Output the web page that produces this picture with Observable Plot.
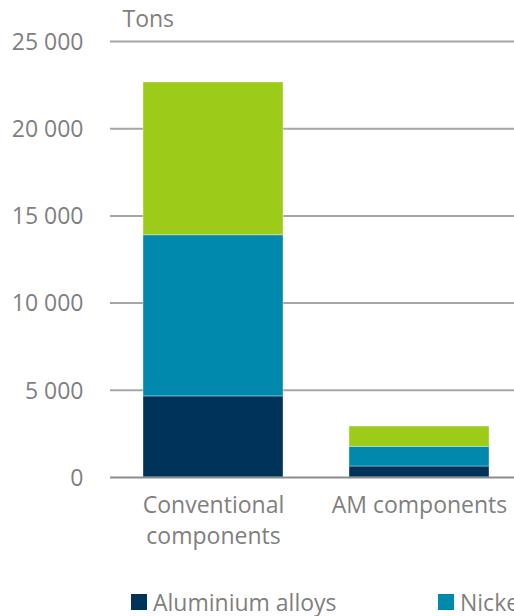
<!DOCTYPE html>
<html>
<head>
<meta charset="utf-8">
<script src="https://cdn.jsdelivr.net/npm/d3@7"></script>
<script src="https://cdn.jsdelivr.net/npm/@observablehq/plot@0.6"></script>
<style>
  html, body { margin: 0; padding: 0; background: #fff; overflow: hidden; }
  #wrap { width: 514px; overflow: hidden; font-family: "Open Sans", sans-serif; }
  #chart svg { max-width: none !important; display: block; }
  #legend { position: relative; height: 40px; margin-top: 17px; white-space: nowrap; font-size: 23px; color: #7f7f7f; }
  .item { position: absolute; top: 0; display: flex; align-items: flex-start; line-height: 1.362; }
  .sw { width: 16px; height: 16px; margin-top: 7px; margin-right: 6px; flex: none; }
</style>
</head>
<body>
<div id="wrap"><div id="chart"></div><div id="legend"></div></div>
<script>
const categories = ["Conventional components", "AM components"];
const xTickLabels = ["Conventional\ncomponents", "AM components"];
const materials = ["Aluminium alloys", "Nickel alloys", "Titanium alloys"];
const aluminium = [4650, 630];
const nickel = [9240, 1130];
const titanium = [8760, 1160];
const yTicks = [0, 5000, 10000, 15000, 20000, 25000];
const colors = ["#003359", "#0089ad", "#9dcb19"];
const unitLabel = ["Tons"];

const seriesValues = [aluminium, nickel, titanium];
const rows = [];
categories.forEach((c, i) => {
  materials.forEach((m, j) => rows.push({category: c, material: m, value: seriesValues[j][i]}));
});

const fmt = d => d3.format(",")(d).replace(/,/g, " ");

const chart = Plot.plot({
  width: 522,
  height: 570,
  marginLeft: 110,
  marginRight: 0,
  marginTop: 41,
  marginBottom: 93,
  style: {fontFamily: "'Open Sans', sans-serif", fontSize: "23px", color: "#7f7f7f", background: "#fff"},
  x: {domain: categories, paddingInner: 0.32, paddingOuter: 0.16, label: null, axis: null},
  y: {domain: [0, 25000], label: null, axis: null},
  color: {domain: materials, range: colors},
  marks: [
    Plot.ruleY(yTicks.filter(d => d > 0), {stroke: "#a6a6a6", strokeWidth: 2}),
    Plot.barY(rows, {x: "category", y: "value", fill: "material", stroke: "#ffffff", strokeOpacity: 0.35, strokeWidth: 1}),
    Plot.ruleY([0], {stroke: "#8c8c8c", strokeWidth: 2}),
    Plot.axisY({ticks: yTicks, tickSize: 0, tickPadding: 27, dy: 1, tickFormat: fmt, fill: "#7f7f7f", label: null}),
    Plot.axisX({tickSize: 0, tickPadding: 13, tickFormat: d => xTickLabels[categories.indexOf(d)], lineHeight: 1.35, fill: "#7f7f7f", label: null}),
    Plot.text(unitLabel, {frameAnchor: "top-left", dx: 12, dy: -22, textAnchor: "start", lineAnchor: "middle", fill: "#7f7f7f"})
  ]
});
document.getElementById("chart").appendChild(chart);

const legend = document.getElementById("legend");
materials.forEach((m, i) => {
  const item = document.createElement("div");
  item.className = "item";
  item.style.left = (131 + i * 307) + "px";
  const sw = document.createElement("span");
  sw.className = "sw";
  sw.style.background = colors[i];
  const tx = document.createElement("span");
  tx.textContent = m;
  item.appendChild(sw);
  item.appendChild(tx);
  legend.appendChild(item);
});
</script>
</body>
</html>
